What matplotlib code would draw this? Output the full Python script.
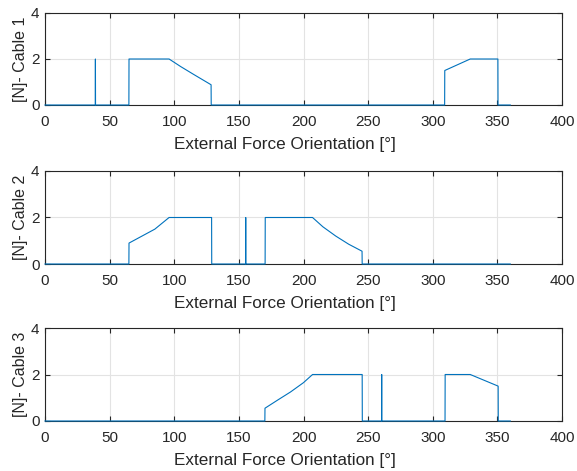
import matplotlib.pyplot as plt

plt.rcParams['font.family'] = ['Liberation Sans', 'DejaVu Sans']

# cable tension vs. external force orientation (deg)
cable1_x = [0, 38.9, 39.0, 39.1, 64.9, 65, 96, 105, 115, 128.5, 128.6, 309.2, 309.3, 329, 350.4, 350.5, 360]
cable1_y = [0, 0, 2, 0, 0, 2, 2, 1.67, 1.33, 0.88, 0, 0, 1.5, 2, 2, 0, 0]

cable2_x = [0, 64.9, 65, 75, 85, 96, 128.9, 129.0, 155.2, 155.3, 155.4, 170.3, 170.4, 207, 215, 225, 235, 245.3, 245.4, 360]
cable2_y = [0, 0, 0.9, 1.2, 1.5, 2, 2, 0, 0, 2, 0, 0, 2, 2, 1.6, 1.2, 0.85, 0.55, 0, 0]

cable3_x = [0, 170.1, 170.2, 180, 190, 200, 207, 245.4, 245.5, 260.4, 260.5, 260.6, 309.5, 309.6, 329, 350.6, 350.7, 360]
cable3_y = [0, 0, 0.55, 0.9, 1.25, 1.65, 2, 2, 0, 0, 2, 0, 0, 2, 2, 1.5, 0, 0]

series = [(cable1_x, cable1_y, '[N]- Cable 1'),
          (cable2_x, cable2_y, '[N]- Cable 2'),
          (cable3_x, cable3_y, '[N]- Cable 3')]

W, H = 577, 471
fig = plt.figure(figsize=(W / 100, H / 100), dpi=100)

# pixel boxes (left, top, right, bottom) of the three panels
boxes = [(45, 13, 562, 105), (45, 171, 562, 264), (45, 328, 562, 421)]

for (x, y, lab), (l, t, r, b) in zip(series, boxes):
    ax = fig.add_axes([l / W, 1 - b / H, (r - l) / W, (b - t) / H])
    ax.plot(x, y, color='#0072BD', lw=0.8, clip_on=False, zorder=5)
    ax.set_xlim(0, 400)
    ax.set_ylim(0, 4)
    ax.set_xticks(range(0, 401, 50))
    ax.set_yticks([0, 2, 4])
    ax.grid(True, color='#e3e3e3', lw=0.8)
    ax.set_axisbelow(True)
    for s in ax.spines.values():
        s.set_color('#262626')
        s.set_linewidth(0.8)
    ax.tick_params(direction='in', length=3.5, width=0.8, color='#262626',
                   labelcolor='#262626', labelsize=11, top=True, right=True, pad=7)
    ax.tick_params(axis='y', pad=4)
    ax.set_xlabel('External Force Orientation [°]', fontsize=12.3, color='#262626')
    ax.xaxis.set_label_coords(0.464, -0.345)
    ax.set_ylabel(lab, fontsize=11.5, color='#262626', labelpad=2)

fig.savefig('out.png', dpi=100)
